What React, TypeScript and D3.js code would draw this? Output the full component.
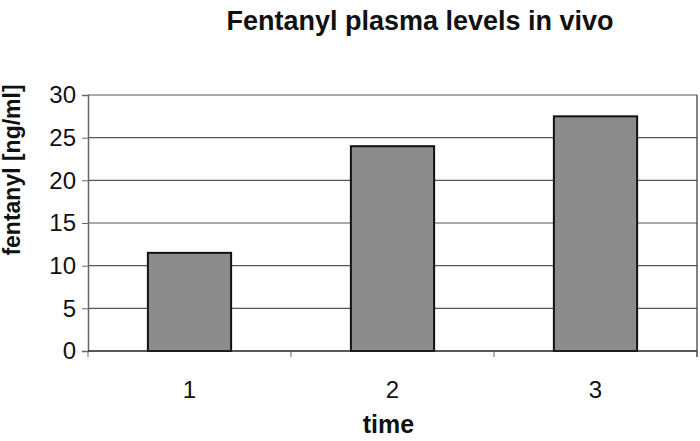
import React from "react";
import * as d3 from "d3";

const categories = ["1", "2", "3"];
const values = [11.5, 24.0, 27.5];
const yTicks = [0, 5, 10, 15, 20, 25, 30];

export default function App() {
  const svgRef = React.useRef<SVGSVGElement>(null);

  React.useEffect(() => {
    document.body.style.margin = "0";
    const width = 700;
    const height = 441;
    const margin = { top: 95, right: 3, bottom: 90, left: 88 };
    const innerW = width - margin.left - margin.right;
    const innerH = height - margin.top - margin.bottom;
    const font = "'Liberation Sans', Arial, sans-serif";

    const svg = d3.select(svgRef.current).attr("width", width).attr("height", height);
    svg.selectAll("*").remove();

    const x = d3.scaleBand().domain(categories).range([0, innerW]).paddingInner(0.59).paddingOuter(0.295);
    const y = d3.scaleLinear().domain([0, 30]).range([innerH, 0]);

    const g = svg.append("g").attr("transform", `translate(${margin.left},${margin.top})`);

    // gridlines
    g.selectAll(".grid")
      .data(yTicks.filter((d) => d > 0))
      .enter()
      .append("line")
      .attr("x1", 0)
      .attr("x2", innerW)
      .attr("y1", (d) => y(d))
      .attr("y2", (d) => y(d))
      .attr("stroke", "#555")
      .attr("stroke-width", 1.2);

    // right border
    g.append("line")
      .attr("x1", innerW)
      .attr("x2", innerW)
      .attr("y1", 0)
      .attr("y2", innerH + 6)
      .attr("stroke", "#333")
      .attr("stroke-width", 1.2);

    // bars
    g.selectAll(".bar")
      .data(values)
      .enter()
      .append("rect")
      .attr("x", (_, i) => x(categories[i])!)
      .attr("y", (d) => y(d))
      .attr("width", x.bandwidth())
      .attr("height", (d) => innerH - y(d))
      .attr("fill", "#8c8c8c")
      .attr("stroke", "#111")
      .attr("stroke-width", 2);

    // y axis
    const yAxis = d3.axisLeft(y).tickValues(yTicks).tickSize(6).tickPadding(6);
    const ya = g.append("g").call(yAxis);
    ya.select(".domain").attr("stroke", "#666").attr("stroke-width", 1.5);
    ya.selectAll(".tick line").attr("stroke", "#666");
    ya.selectAll("text").attr("font-family", font).attr("font-size", 24).attr("fill", "#111");

    // x axis
    const xAxis = d3.axisBottom(x).tickSize(0).tickPadding(30);
    const xa = g.append("g").attr("transform", `translate(0,${innerH})`).call(xAxis);
    xa.select(".domain").remove();
    xa.selectAll("text").attr("font-family", font).attr("font-size", 24).attr("fill", "#111");
    g.append("line")
      .attr("x1", 0)
      .attr("x2", innerW)
      .attr("y1", innerH)
      .attr("y2", innerH)
      .attr("stroke", "#222")
      .attr("stroke-width", 1.5);
    // category boundary ticks
    const step = x.step();
    g.selectAll(".xtick")
      .data(d3.range(categories.length + 1))
      .enter()
      .append("line")
      .attr("x1", (i) => i * step)
      .attr("x2", (i) => i * step)
      .attr("y1", innerH)
      .attr("y2", innerH + 6)
      .attr("stroke", "#666");

    // title
    svg
      .append("text")
      .attr("x", 420)
      .attr("y", 30)
      .attr("text-anchor", "middle")
      .attr("font-family", font)
      .attr("font-weight", "bold")
      .attr("font-size", 27)
      .attr("fill", "#111")
      .text("Fentanyl plasma levels in vivo");

    // axis titles
    svg
      .append("text")
      .attr("x", margin.left + innerW / 2 - 4)
      .attr("y", 433)
      .attr("text-anchor", "middle")
      .attr("font-family", font)
      .attr("font-weight", "bold")
      .attr("font-size", 25)
      .attr("fill", "#111")
      .text("time");

    svg
      .append("text")
      .attr("transform", "translate(20,170) rotate(-90)")
      .attr("text-anchor", "middle")
      .attr("font-family", font)
      .attr("font-weight", "bold")
      .attr("font-size", 23)
      .attr("fill", "#111")
      .text("fentanyl [ng/ml]");
  }, []);

  return <svg ref={svgRef} style={{ display: "block" }} />;
}
